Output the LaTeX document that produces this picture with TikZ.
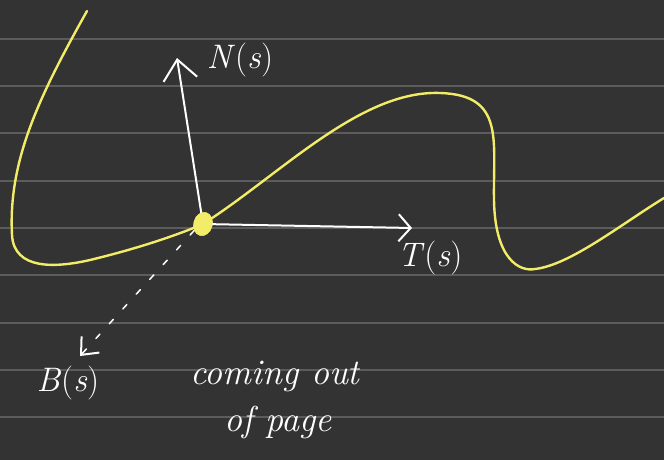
\documentclass[tikz,border=0pt]{standalone}
\usetikzlibrary{arrows.meta,shapes.geometric}
\definecolor{bg}{RGB}{51,51,51}
\definecolor{rule}{RGB}{92,92,92}
\definecolor{curvey}{RGB}{242,236,104}
\begin{document}
\begin{tikzpicture}[x=1pt,y=-1pt,
  ruling/.style={draw=rule,line width=1.3pt},
  curveline/.style={draw=curvey,line width=2.4pt,line cap=round,line join=round},
  vec/.style={draw=white,line width=2pt,line cap=round},
  lab/.style={text=white,font=\fontsize{34}{38}\selectfont,inner sep=0pt},
  note/.style={text=white,font=\fontsize{36}{40}\selectfont\itshape,inner sep=0pt}]
\fill[bg] (0,0) rectangle (664,460);
\useasboundingbox (0,0) rectangle (664,460);
\foreach \yy in {39,86,133,181,228,275,323,370,417}
  \draw[ruling] (0,\yy) -- (664,\yy);
\node[fill=curvey,ellipse,rotate=-15,minimum width=19pt,minimum height=24pt,inner sep=0pt] (p) at (203,224) {};
\draw[curveline] (87,11) .. controls (40,95) and (8,160) .. (12,235)
  .. controls (14,270) and (55,268) .. (90,260)
  .. controls (140,248) and (180,234) .. (p.center)
  .. controls (280,175) and (360,90) .. (440,93)
  .. controls (505,95) and (493,140) .. (494,200)
  .. controls (495,260) and (520,272) .. (535,269)
  .. controls (570,265) and (620,225) .. (664,198);
\coordinate (nend) at (177,58);
\coordinate (tend) at (412,228);
\coordinate (bend) at (80,356);
\draw[vec,-{Straight Barb[length=20pt,width=34pt,line width=2pt]}] (p.center) -- (nend);
\draw[vec,-{Straight Barb[length=12pt,width=27pt,line width=2pt]}] (p.center) -- (tend);
\draw[vec,line width=1.5pt,dash pattern=on 6pt off 14pt,-{Straight Barb[length=14pt,width=24pt,line width=2pt]}] (p.south west) -- (bend);
\node[fill=curvey,ellipse,rotate=-15,minimum width=19pt,minimum height=24pt,inner sep=0pt] at (p.center) {};
\node[lab] (nlab) at (240,60) {\textit{N}(\textit{s})};
\node[lab] (tlab) at (430,258) {\textit{T}(\textit{s})};
\node[lab] (blab) at (68,383) {\textit{B}(\textit{s})};
\node[note] (n1) at (275,376) {coming out};
\node[note] (n2) at (278,422) {of page};
\end{tikzpicture}
\end{document}
